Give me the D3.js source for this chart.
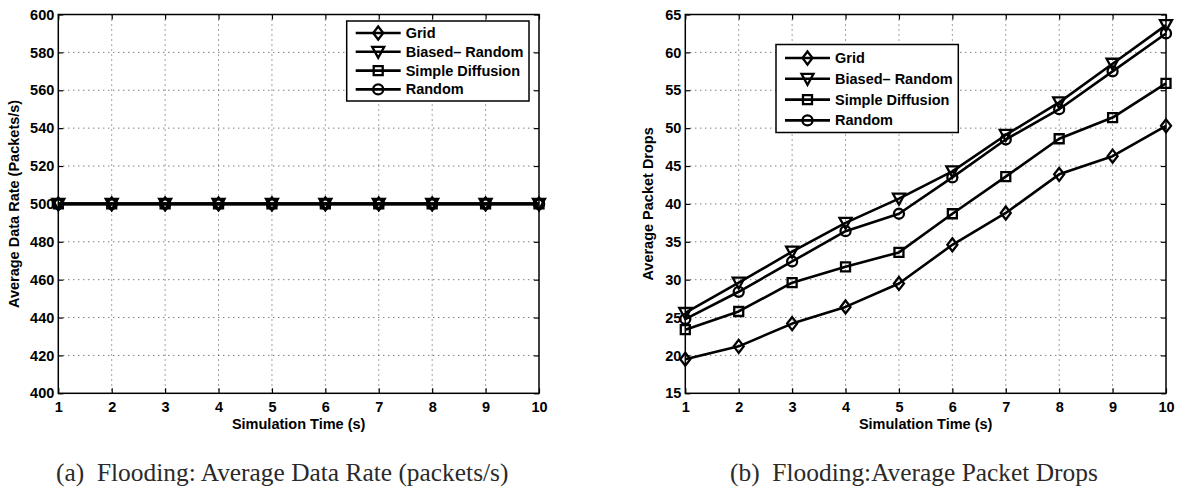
<!DOCTYPE html>
<html>
<head>
<meta charset="utf-8">
<script src="https://cdn.jsdelivr.net/npm/d3@7"></script>
<style>
  html, body { margin: 0; padding: 0; background: #fff; }
  svg { display: block; }
</style>
</head>
<body>
<svg id="chart" width="1177" height="490"></svg>
<script>
// ---------- DATA ----------
const times = [1, 2, 3, 4, 5, 6, 7, 8, 9, 10];
const seriesNames = ["Grid", "Biased\u2013 Random", "Simple Diffusion", "Random"];
const seriesMarkers = ["diamond", "triangleDown", "square", "circle"];

// (a) Average Data Rate (packets/s)
const rateGrid      = [500, 500, 500, 500, 500, 500, 500, 500, 500, 500];
const rateBiased    = [500, 500, 500, 500, 500, 500, 500, 500, 500, 500];
const rateDiffusion = [500, 500, 500, 500, 500, 500, 500, 500, 500, 500];
const rateRandom    = [500, 500, 500, 500, 500, 500, 500, 500, 500, 500];

// (b) Average Packet Drops
const dropsGrid      = [19.5, 21.2, 24.2, 26.4, 29.5, 34.6, 38.8, 43.9, 46.3, 50.3];
const dropsBiased    = [25.6, 29.6, 33.7, 37.5, 40.7, 44.3, 49.1, 53.4, 58.5, 63.6];
const dropsDiffusion = [23.4, 25.8, 29.6, 31.7, 33.6, 38.7, 43.6, 48.6, 51.4, 55.9];
const dropsRandom    = [24.8, 28.4, 32.4, 36.4, 38.7, 43.5, 48.5, 52.5, 57.5, 62.5];

const xTicks = [1, 2, 3, 4, 5, 6, 7, 8, 9, 10];
const rateTicks = [400, 420, 440, 460, 480, 500, 520, 540, 560, 580, 600];
const dropTicks = [15, 20, 25, 30, 35, 40, 45, 50, 55, 60, 65];

const xTitle = "Simulation Time (s)";
const rateYTitle = "Average Data Rate (Packets/s)";
const dropYTitle = "Average Packet Drops";
const captionA = "(a)\u2002Flooding: Average Data Rate (packets/s)";
const captionB = "(b)\u2002Flooding:Average Packet Drops";

// ---------- DRAWING ----------
const svg = d3.select("#chart");
const FONT = "'Liberation Sans', Arial, Helvetica, sans-serif";
const SERIF = "'Liberation Serif', 'Times New Roman', serif";

function markerPath(type) {
  switch (type) {
    case "diamond": return "M0,-6.5L5,0L0,6.5L-5,0Z";
    case "triangleDown": return "M-6,-5L6,-5L0,6Z";
    case "square": return "M-4.5,-4.5H4.5V4.5H-4.5Z";
    case "circle": return "M5,0A5,5 0 1,1 -5,0A5,5 0 1,1 5,0Z";
  }
}

function drawPanel(opts) {
  const g = svg.append("g");
  const x = d3.scaleLinear().domain([1, 10]).range([opts.left, opts.right]);
  const y = d3.scaleLinear().domain(opts.yDomain).range([opts.bottom, opts.top]);

  // grid
  const grid = g.append("g").attr("stroke", "#444").attr("stroke-width", 1)
    .attr("stroke-dasharray", "1,4").attr("fill", "none");
  grid.selectAll("line.v").data(xTicks.slice(1, -1)).join("line")
    .attr("x1", d => x(d)).attr("x2", d => x(d))
    .attr("y1", opts.top).attr("y2", opts.bottom);
  grid.selectAll("line.h").data(opts.yTicks.slice(1, -1)).join("line")
    .attr("class", "h")
    .attr("x1", opts.left).attr("x2", opts.right)
    .attr("y1", d => y(d)).attr("y2", d => y(d));

  // axes
  const styleAxis = (sel, showText) => {
    sel.select(".domain").remove();
    sel.selectAll(".tick line").attr("stroke", "#000").attr("stroke-width", 1.2);
    sel.selectAll(".tick text").attr("font-family", FONT).attr("font-weight", "bold")
      .attr("font-size", "14.5px").attr("fill", "#000");
    if (!showText) sel.selectAll(".tick text").remove();
  };
  g.append("g").attr("transform", `translate(0,${opts.bottom})`)
    .call(d3.axisBottom(x).tickValues(xTicks).tickSize(-5).tickPadding(8).tickFormat(d3.format("d")))
    .call(s => styleAxis(s, true));
  g.append("g").attr("transform", `translate(0,${opts.top})`)
    .call(d3.axisTop(x).tickValues(xTicks).tickSize(-5))
    .call(s => styleAxis(s, false));
  g.append("g").attr("transform", `translate(${opts.left},0)`)
    .call(d3.axisLeft(y).tickValues(opts.yTicks).tickSize(-5).tickPadding(4).tickFormat(d3.format("d")))
    .call(s => styleAxis(s, true));
  g.append("g").attr("transform", `translate(${opts.right},0)`)
    .call(d3.axisRight(y).tickValues(opts.yTicks).tickSize(-5))
    .call(s => styleAxis(s, false));

  // frame
  g.append("rect").attr("x", opts.left).attr("y", opts.top)
    .attr("width", opts.right - opts.left).attr("height", opts.bottom - opts.top)
    .attr("fill", "none").attr("stroke", "#000").attr("stroke-width", 1.5);

  // series
  const line = d3.line().x((d, i) => x(times[i])).y(d => y(d));
  opts.series.forEach((vals, si) => {
    g.append("path").datum(vals).attr("d", line)
      .attr("fill", "none").attr("stroke", "#000").attr("stroke-width", 2.6)
      .attr("stroke-linejoin", "round");
    g.selectAll(null).data(vals).join("path")
      .attr("transform", (d, i) => `translate(${x(times[i])},${y(d)})`)
      .attr("d", markerPath(seriesMarkers[si]))
      .attr("fill", "none").attr("stroke", "#000").attr("stroke-width", 2.3);
  });

  // axis titles
  g.append("text").attr("x", (opts.left + opts.right) / 2).attr("y", opts.bottom + 36)
    .attr("text-anchor", "middle").attr("font-family", FONT).attr("font-weight", "bold")
    .attr("font-size", "14.5px").text(xTitle);
  g.append("text")
    .attr("transform", `translate(${opts.yTitleX},${(opts.top + opts.bottom) / 2}) rotate(-90)`)
    .attr("text-anchor", "middle").attr("dominant-baseline", "central")
    .attr("font-family", FONT).attr("font-weight", "bold")
    .attr("font-size", "14.5px").text(opts.yTitle);

  // legend
  const L = opts.legend;
  const lg = g.append("g");
  lg.append("rect").attr("x", L.x).attr("y", L.y).attr("width", L.w).attr("height", L.h)
    .attr("fill", "#fff").attr("stroke", "#000").attr("stroke-width", 1.5);
  seriesNames.forEach((name, si) => {
    const ry = L.y + L.first + si * L.step;
    lg.append("line").attr("x1", L.x + 9).attr("x2", L.x + 54).attr("y1", ry).attr("y2", ry)
      .attr("stroke", "#000").attr("stroke-width", 2.6);
    lg.append("path").attr("transform", `translate(${L.x + 31.5},${ry})`)
      .attr("d", markerPath(seriesMarkers[si]))
      .attr("fill", "none").attr("stroke", "#000").attr("stroke-width", 2.3);
    lg.append("text").attr("x", L.x + 59).attr("y", ry).attr("dominant-baseline", "central")
      .attr("font-family", FONT).attr("font-weight", "bold").attr("font-size", "14.5px")
      .text(name);
  });
}

drawPanel({
  left: 58.3, right: 539, top: 14.5, bottom: 393.3,
  yDomain: [400, 600], yTicks: rateTicks,
  series: [rateGrid, rateBiased, rateDiffusion, rateRandom],
  yTitle: rateYTitle, yTitleX: 14,
  legend: { x: 346.7, y: 21, w: 182.3, h: 80, first: 12, step: 18.8 }
});

drawPanel({
  left: 685.3, right: 1166, top: 14.5, bottom: 393.3,
  yDomain: [15, 65], yTicks: dropTicks,
  series: [dropsGrid, dropsBiased, dropsDiffusion, dropsRandom],
  yTitle: dropYTitle, yTitleX: 648,
  legend: { x: 776, y: 44.5, w: 182.3, h: 88, first: 13.5, step: 20.8 }
});

// captions: size chosen so caption (b) spans its width in the reference
const capB = svg.append("text").attr("x", 730).attr("y", 481)
  .attr("font-family", SERIF).attr("font-size", "22px").attr("fill", "#2a2a2a").text(captionB);
const wB = capB.node().getComputedTextLength();
const capSize = 22 * 368 / wB;
capB.attr("font-size", capSize + "px");
svg.append("text").attr("x", 56).attr("y", 481)
  .attr("font-family", SERIF).attr("font-size", capSize + "px").attr("fill", "#2a2a2a").text(captionA);
</script>
</body>
</html>
